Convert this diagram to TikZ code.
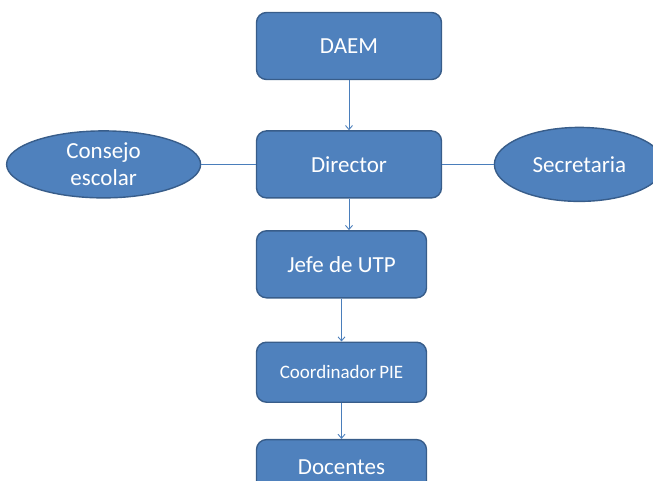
\documentclass[tikz,border=0pt]{standalone}
\usepackage{fontspec}
\setmainfont{Carlito}
\usetikzlibrary{positioning,shapes.geometric,arrows.meta}
\definecolor{boxFill}{HTML}{4F81BD}
\definecolor{boxLine}{HTML}{385D8A}
\definecolor{linkLine}{HTML}{4A7EBB}
\begin{document}
\begin{tikzpicture}[
        boxNode/.style={rectangle, rounded corners=10pt, draw=boxLine, line width=1.4pt, fill=boxFill,
            text=white, minimum width=170pt, minimum height=67pt, inner sep=0pt,
            font=\fontsize{23}{27}\selectfont},
        ovalNode/.style={ellipse, draw=boxLine, line width=1.4pt, fill=boxFill, text=white,
            inner sep=0pt, align=center, font=\fontsize{23}{27}\selectfont},
        link/.style={draw=linkLine, line width=0.9pt},
        arrowLink/.style={link, -{Straight Barb[length=4pt,width=7pt]}}
    ]
        \useasboundingbox (0,0) rectangle (653pt,-481pt);
        \clip (0,0) rectangle (653pt,-481pt);

        % Top nodes
        \node[boxNode, minimum width=185pt] (daem) at (349pt,-46pt) {DAEM};
        \node[boxNode, minimum width=185pt, below=50pt of daem] (director) {Director};

        % Side ovals
        \node[ovalNode, minimum width=194pt, minimum height=67pt, left=54.5pt of director] (consejo) {Consejo\\escolar};
        \node[ovalNode, minimum width=170pt, minimum height=74pt, right=51.5pt of director] (secretaria) {Secretaria};

        % Lower chain
        \node[boxNode, below=31.5pt of director.south west, anchor=north west] (jefe) {Jefe de UTP};
        \node[boxNode, minimum height=60pt, below=43pt of jefe, font=\fontsize{19}{23}\selectfont] (coordinador) {Coordinador\hspace{3pt}PIE};
        \node[boxNode, minimum height=56pt, below=36pt of coordinador] (docentes) {Docentes};

        % Edges
        \draw[arrowLink] (daem) -- (director);
        \draw[link] (consejo) -- (director);
        \draw[link] (director) -- (secretaria);
        \draw[arrowLink] (director.south) -- (director.south |- jefe.north);
        \draw[arrowLink] (jefe) -- (coordinador);
        \draw[arrowLink] (coordinador) -- (docentes);
    \end{tikzpicture}
\end{document}
